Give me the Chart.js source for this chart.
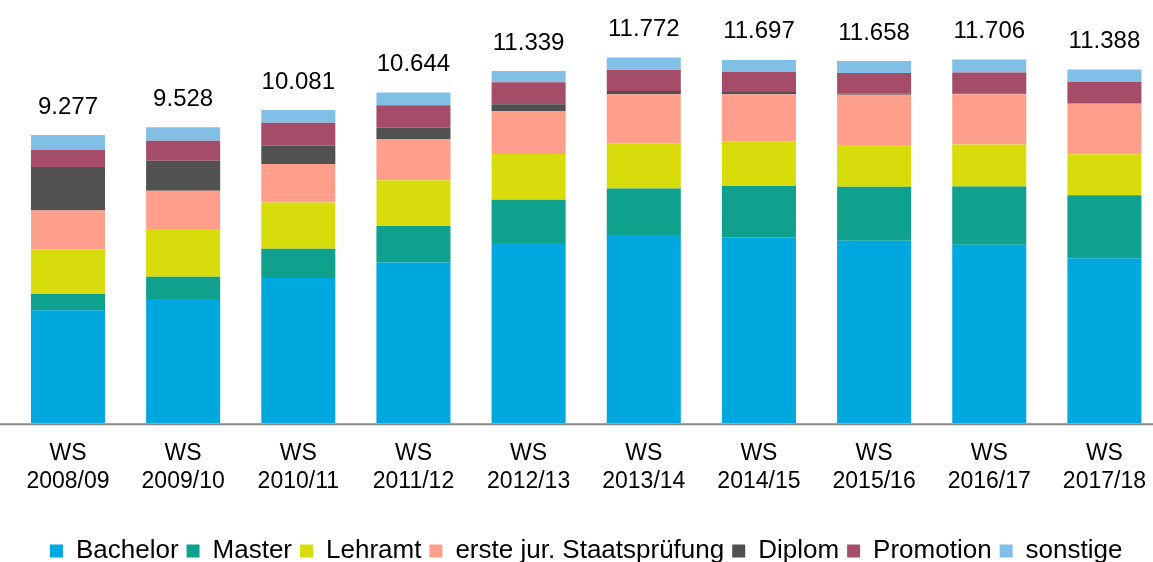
<!DOCTYPE html>
<html>
<head>
<meta charset="utf-8">
<script src="https://cdn.jsdelivr.net/npm/chart.js@4/dist/chart.umd.min.js"></script>
<style>
  html, body { margin: 0; padding: 0; background: #fff; overflow: hidden; }
</style>
</head>
<body>
<canvas id="studentsChart" width="1165" height="574"></canvas>
<script>
// Semester labels (two lines each)
const semesters = [
    ['WS', '2008/09'], ['WS', '2009/10'], ['WS', '2010/11'], ['WS', '2011/12'], ['WS', '2012/13'],
    ['WS', '2013/14'], ['WS', '2014/15'], ['WS', '2015/16'], ['WS', '2016/17'], ['WS', '2017/18']
];

// Students per degree type
const bachelor  = [3640, 4001, 4674, 5177, 5802, 6057, 5989, 5875, 5748, 5315];
const master    = [525, 718, 943, 1177, 1394, 1502, 1652, 1738, 1877, 2028];
const lehramt   = [1440, 1535, 1493, 1470, 1471, 1447, 1426, 1342, 1352, 1320];
const staatsex  = [1247, 1233, 1233, 1328, 1384, 1586, 1526, 1619, 1610, 1620];
const diplom    = [1395, 966, 602, 367, 216, 106, 74, 32, 25, 10];
const promotion = [557, 644, 727, 717, 708, 675, 644, 666, 676, 689];
const sonstige  = [473, 431, 409, 408, 364, 399, 386, 386, 418, 406];

// Totals printed above each bar
const totals = [9277, 9528, 10081, 10644, 11339, 11772, 11697, 11658, 11706, 11388];

const fontFamily = '"Liberation Sans", Arial, sans-serif';

// German thousands separator
function formatDE(v) {
    return String(v).replace(/\B(?=(\d{3})+(?!\d))/g, '.');
}

// Draws the total above each stacked bar
const totalLabels = {
    id: 'totalLabels',
    afterDatasetsDraw(chart) {
        const ctx = chart.ctx;
        const meta = chart.getDatasetMeta(0);
        ctx.save();
        ctx.font = '24px ' + fontFamily;
        ctx.fillStyle = '#000';
        ctx.textAlign = 'center';
        ctx.textBaseline = 'alphabetic';
        totals.forEach((t, i) => {
            const x = meta.data[i].x;
            const y = chart.scales.y.getPixelForValue(t) - 21.5;
            ctx.fillText(formatDE(t), x, y);
        });
        ctx.restore();
    }
};

// Grey base line running across the whole width
const baseLine = {
    id: 'baseLine',
    afterDatasetsDraw(chart) {
        const ctx = chart.ctx;
        const y = chart.scales.y.getPixelForValue(0) + 1;
        ctx.save();
        ctx.strokeStyle = '#888888';
        ctx.lineWidth = 2;
        ctx.beginPath();
        ctx.moveTo(0, y);
        ctx.lineTo(chart.width, y);
        ctx.stroke();
        ctx.restore();
    }
};

const ctx = document.getElementById('studentsChart').getContext('2d');

const studentsChart = new Chart(ctx, {
    type: 'bar',
    data: {
        labels: semesters,
        datasets: [
            { label: 'Bachelor', data: bachelor, backgroundColor: '#00A8E0' },
            { label: 'Master', data: master, backgroundColor: '#0FA08E' },
            { label: 'Lehramt', data: lehramt, backgroundColor: '#D9DC0B' },
            { label: 'erste jur. Staatsprüfung', data: staatsex, backgroundColor: '#FF9E8B' },
            { label: 'Diplom', data: diplom, backgroundColor: '#515151' },
            { label: 'Promotion', data: promotion, backgroundColor: '#A54D68' },
            { label: 'sonstige', data: sonstige, backgroundColor: '#82BFE6' }
        ]
    },
    options: {
        responsive: false,
        animation: false,
        categoryPercentage: 1,
        barPercentage: 0.643,
        layout: {
            padding: { top: 19.4, left: 10.4, right: 3, bottom: 0 }
        },
        plugins: {
            legend: {
                position: 'bottom',
                labels: {
                    boxWidth: 13,
                    boxHeight: 13,
                    padding: 8,
                    color: '#000',
                    font: { family: fontFamily, size: 26 }
                }
            },
            tooltip: { enabled: false }
        },
        scales: {
            x: {
                stacked: true,
                grid: { display: false },
                border: { display: false },
                ticks: {
                    color: '#000',
                    padding: 9,
                    maxRotation: 0,
                    autoSkip: false,
                    font: { family: fontFamily, size: 23 }
                },
                afterFit(scale) {
                    scale.height = 106.7;
                }
            },
            y: {
                stacked: true,
                display: false,
                min: 0,
                max: 13000
            }
        }
    },
    plugins: [totalLabels, baseLine]
});
</script>
</body>
</html>
